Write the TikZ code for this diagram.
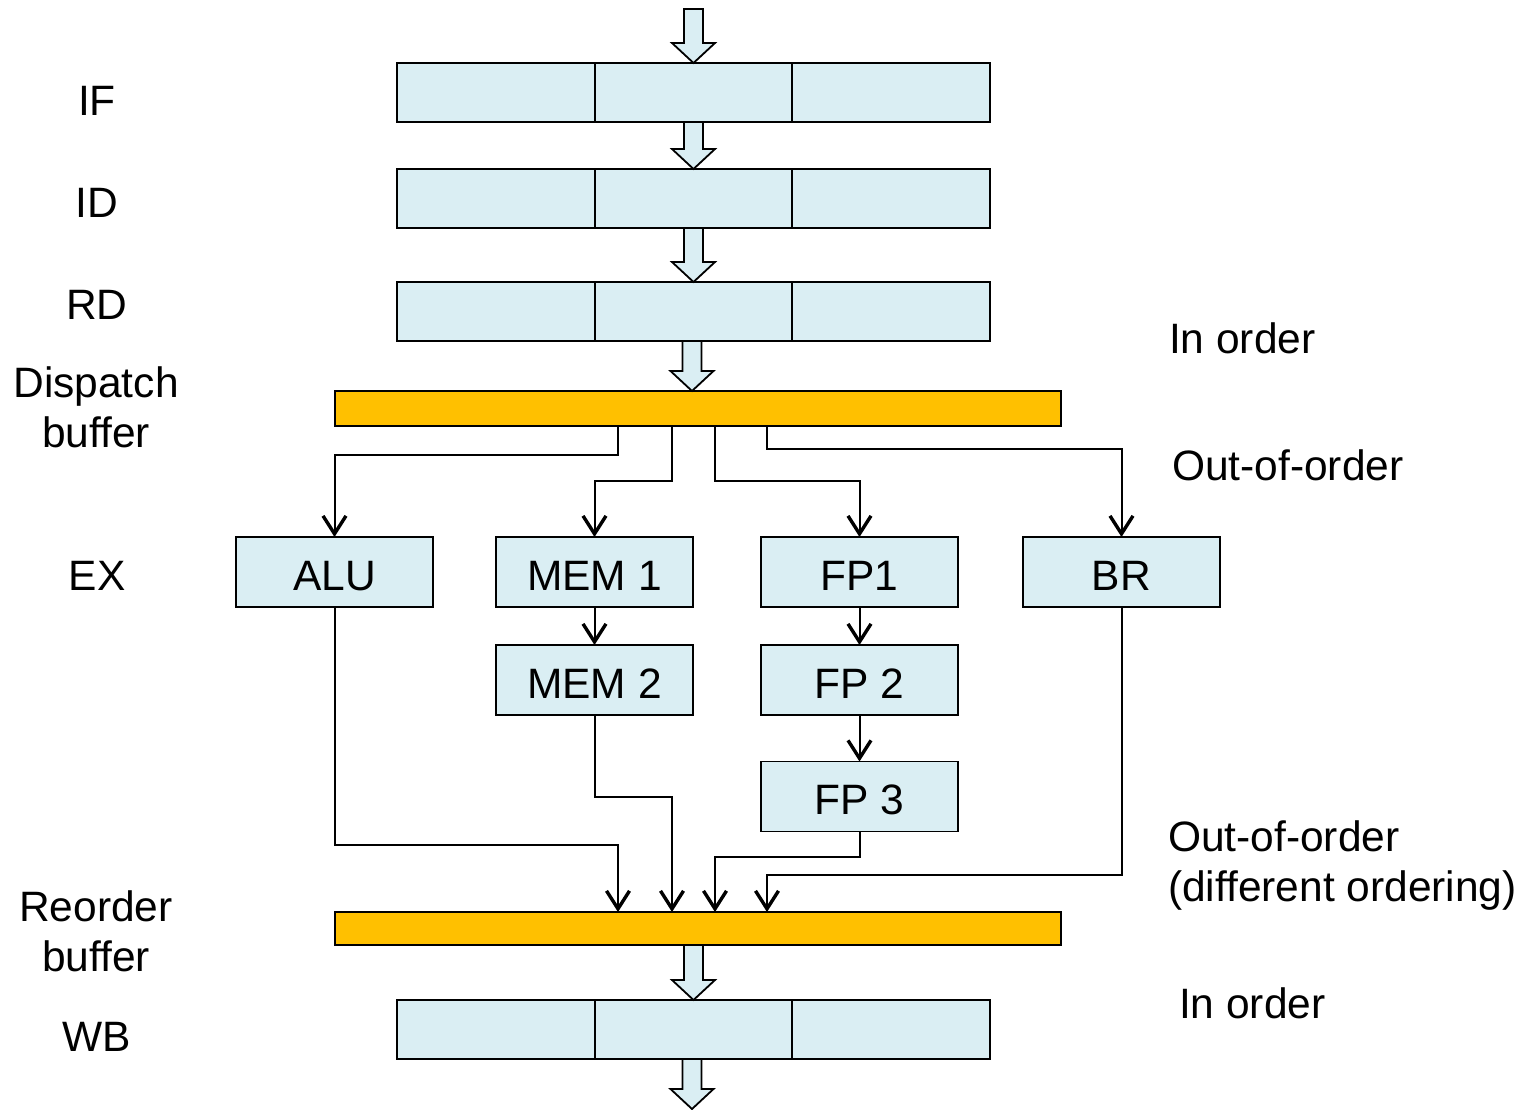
\documentclass[tikz,border=0pt]{standalone}
\usepackage{fontspec}
\setmainfont{Liberation Sans}
\usetikzlibrary{arrows.meta,calc}
\definecolor{boxfill}{HTML}{DAEEF3}
\definecolor{buforange}{HTML}{FFC000}
\newcommand\blkarrow[2]{\draw[barrow] let \p1=(#1), \p2=(#2) in
  (\x2-9.5pt,\y1) -- (\x2+9.5pt,\y1) -- (\x2+9.5pt,\y2+20pt) -- (\x2+21.5pt,\y2+20pt)
  -- (\x2,\y2) -- (\x2-21.5pt,\y2+20pt) -- (\x2-9.5pt,\y2+20pt) -- cycle;}
\newcommand\rowdiv[1]{%
  \draw[divline] ($(#1.north west)!1/3!(#1.north east)$) -- ($(#1.south west)!1/3!(#1.south east)$);
  \draw[divline] ($(#1.north west)!2/3!(#1.north east)$) -- ($(#1.south west)!2/3!(#1.south east)$);}
\begin{document}
\begin{tikzpicture}[x=1pt,y=-1pt,
  every node/.style={font=\fontsize{42.5}{50}\selectfont, inner sep=0pt, outer sep=0pt},
  rowbox/.style={draw, line width=1.8pt, fill=boxfill, minimum width=593pt, minimum height=59pt},
  divline/.style={line width=1.8pt},
  unitbox/.style={draw, line width=1.8pt, fill=boxfill, minimum width=197pt, minimum height=70pt, text height=36pt, text depth=0pt},
  bufbox/.style={draw, line width=1.8pt, fill=buforange, minimum width=726pt},
  barrow/.style={draw, line width=1.8pt, fill=boxfill, line join=miter},
  conn/.style={line width=2pt, -{Straight Barb[length=18pt,width=23pt,line width=3.4pt]}},
  lbl/.style={align=center}]
\useasboundingbox (0,0) rectangle (1527,1110);

% pipeline rows
\node[rowbox] (IF) at (693.5,92.5) {};
\node[rowbox] (ID) at (693.5,198.5) {};
\node[rowbox] (RD) at (693.5,311.5) {};
\node[rowbox] (WB) at (693.5,1029.5) {};
\rowdiv{IF}\rowdiv{ID}\rowdiv{RD}\rowdiv{WB}

% buffers
\node[bufbox, minimum height=35pt] (DISP) at (698,408.5) {};
\node[bufbox, minimum height=33pt] (ROB) at (698,928.5) {};

% execution units
\node[unitbox] (ALU) at (334.5,572) {ALU};
\node[unitbox] (MEM1) at (594.5,572) {MEM 1};
\node[unitbox] (FP1) at (859.5,572) {FP1};
\node[unitbox] (BR) at (1121.5,572) {BR};
\node[unitbox] (MEM2) at (594.5,680) {MEM 2};
\node[unitbox] (FP2) at (859.5,680) {FP 2};
\node[unitbox] (FP3) at (859.5,796.5) {FP 3};

% block arrows
\coordinate (in) at (692,9);
\coordinate (out) at (692,1109);
\coordinate (dispin) at (692,391);
\blkarrow{in}{IF.north}
\blkarrow{IF.south}{ID.north}
\blkarrow{ID.south}{RD.north}
\blkarrow{RD.south}{dispin}
\blkarrow{ROB.south}{WB.north}
\blkarrow{WB.south}{out}

% dispatch connectors
\draw[conn] (DISP.south -| 618,0) -- (618,455) -| (ALU.north);
\draw[conn] (DISP.south -| 672,0) -- (672,481) -| (MEM1.north);
\draw[conn] (DISP.south -| 715,0) -- (715,481) -| (FP1.north);
\draw[conn] (DISP.south -| 767,0) -- (767,449) -| (BR.north);

% unit chains
\draw[conn] (MEM1) -- (MEM2);
\draw[conn] (FP1) -- (FP2);
\draw[conn] (FP2) -- (FP3);

% to reorder buffer
\draw[conn] (ALU.south) |- (618,845) -- (ROB.north -| 618,0);
\draw[conn] (MEM2.south) |- (672,797) -- (ROB.north -| 672,0);
\draw[conn] (FP3.south) |- (715,857) -- (ROB.north -| 715,0);
\draw[conn] (BR.south) |- (767,875) -- (ROB.north -| 767,0);

% left labels
\node (lIF) at (97,101) {IF};
\node (lID) at (97,203) {ID};
\node (lRD) at (97,305) {RD};
\node[lbl] (lDISP) at (96,407) {Dispatch\\buffer};
\node (lEX) at (97,576) {EX};
\node[lbl] (lROB) at (96,931) {Reorder\\buffer};
\node (lWB) at (97,1037) {WB};

% right labels
\node[anchor=west] (r1) at (1169,338) {In order};
\node[anchor=west] (r2) at (1172,465) {Out-of-order};
\node[anchor=west, align=left] (r3) at (1168,866) {Out-of-order\\(different ordering)};
\node[anchor=west] (r4) at (1179,1003) {In order};
\end{tikzpicture}
\end{document}
